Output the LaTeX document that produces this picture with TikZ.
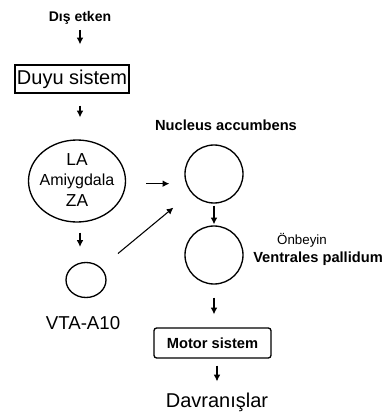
\documentclass[tikz,border=0pt]{standalone}
\usepackage{fontspec}
\setmainfont{Liberation Sans}
\usetikzlibrary{arrows.meta,shapes.geometric}
\begin{document}
\begin{tikzpicture}[x=0.75pt,y=-0.75pt,
    every node/.style={inner sep=0pt},
    ok/.style={-{Latex[length=5pt,width=5pt]},line width=0.8pt},
    halka/.style={draw,ellipse,line width=1pt},
    kutu/.style={draw,line width=1pt}]
    \useasboundingbox (0,0) rectangle (388,412);
    % left column
    \node (E) at (80,18) {\fontsize{10.5}{12}\selectfont\bfseries Dış etken};
    \node[kutu,minimum width=85.5pt,minimum height=21pt] (D) at (72,79)
        {\fontsize{15}{18}\selectfont Duyu sistem};
    \node[halka,minimum width=72.75pt,minimum height=61.5pt] (A) at (77,181) {};
    \node (LA) at (77,160) {\fontsize{13}{15}\selectfont LA};
    \node (AM) at (77,181) {\fontsize{12}{14}\selectfont Amiygdala};
    \node (ZA) at (77,201) {\fontsize{13}{15}\selectfont ZA};
    \node[halka,minimum width=30pt,minimum height=26.25pt] (V) at (86,280) {};
    \node (VT) at (83,323) {\fontsize{14}{16}\selectfont VTA-A10};
    % right column
    \node (NT) at (226,125) {\fontsize{11}{13}\selectfont\bfseries Nucleus accumbens};
    \node[halka,minimum size=43.5pt] (N) at (214,174) {};
    \node[halka,minimum size=43.5pt] (P) at (214,255) {};
    \node (O) at (302,240) {\fontsize{10}{12}\selectfont Önbeyin};
    \node[anchor=west] (PT) at (253,259) {\fontsize{11}{13}\selectfont\bfseries Ventrales pallidum};
    \node[kutu,rounded corners=2pt,minimum width=87.75pt,minimum height=22.5pt] (M) at (212.5,343)
        {\fontsize{11}{13}\selectfont\bfseries Motor sistem};
    \node (B) at (217,402) {\fontsize{15}{18}\selectfont Davranışlar};
    % arrows
    \draw[ok,shorten <=3.75pt,shorten >=15pt] (E.south) -- (E.south |- D.north);
    \draw[ok,shorten <=9pt,shorten >=16.5pt] (E |- D.south) -- (E |- A.north);
    \draw[ok,shorten <=7.5pt,shorten >=11.25pt] (E |- A.south) -- (E |- V.north);
    \draw[ok,shorten <=15pt,shorten >=11.25pt] ([yshift=-2pt]A.east) -- ([yshift=-2pt]N.west |- A.east);
    \draw[ok,shorten <=16.5pt,shorten >=17.25pt] (V) -- (N);
    \draw[ok,shorten <=1.5pt,shorten >=0.75pt] (N.south) -- (P.north);
    \draw[ok,shorten <=9.75pt,shorten >=9.75pt] (P.south) -- (P.south |- M.north);
    \draw[ok,shorten <=5.25pt,shorten >=8.25pt] (B.north |- M.south) -- (B.north);
\end{tikzpicture}
\end{document}
